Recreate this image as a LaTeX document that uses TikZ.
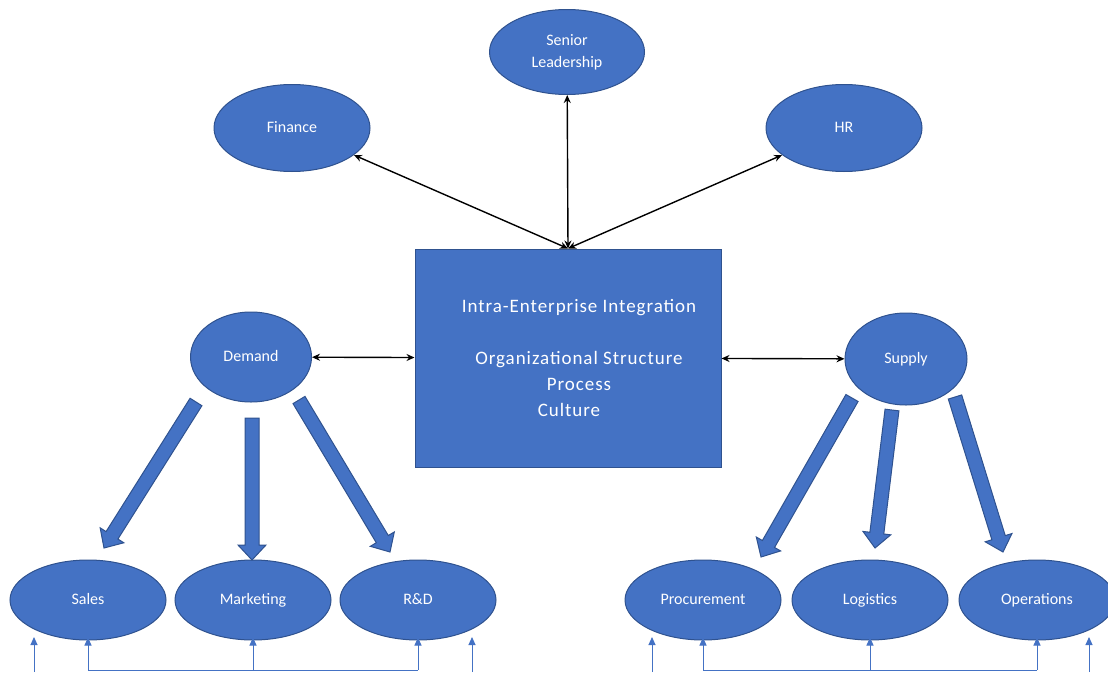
\documentclass[tikz,border=0pt]{standalone}
\usepackage{fontspec}
\setmainfont{Carlito}
\newfontfamily\wide[LetterSpace=5]{Carlito}
\usetikzlibrary{arrows.meta,shapes.geometric,positioning,calc}

\definecolor{ofblue}{HTML}{4472C4}
\definecolor{ofedge}{HTML}{2F528F}

% thick block arrow from #1 to #2
\newcommand{\fatarrow}[2]{%
  \coordinate (hb) at ($(#2)!15pt!(#1)$);
  \filldraw[fat] ($(#1)!7pt!90:(#2)$) -- ($(hb)!7pt!90:(#2)$) -- ($(hb)!14pt!90:(#2)$)
    -- (#2) -- ($(hb)!14pt!-90:(#2)$) -- ($(hb)!7pt!-90:(#2)$) -- ($(#1)!7pt!-90:(#2)$) -- cycle;}

\begin{document}
\begin{tikzpicture}[x=1pt,y=-1pt,node distance=165pt,>={Stealth[length=8pt,width=7pt]},
  blob/.style={ellipse,fill=ofblue,draw=ofedge,line width=1pt,text=white,inner sep=0pt,
    minimum width=156pt,minimum height=80pt,align=center,font=\fontsize{16}{22}\selectfont},
  unit/.style={blob,text height=11pt,text depth=3pt},
  core/.style={rectangle,fill=ofblue,draw=ofedge,line width=1pt,minimum width=306pt,minimum height=218pt},
  link/.style={<->,line width=1.4pt,black},
  fat/.style={fill=ofblue,draw=ofedge,line width=1pt},
  feed/.style={draw=ofblue,line width=1pt,-{Triangle[length=8pt,width=7pt]}},
  bus/.style={draw=ofblue,line width=1pt}]

  \useasboundingbox (0,0) rectangle (1108,672);

  % top
  \node[blob,minimum width=155pt,minimum height=85pt] (lead) at (567,52) {Senior\\Leadership};
  \node[unit,minimum height=87pt] (finance) at (292,128) {Finance};
  \node[unit,minimum height=87pt] (hr) at (844,128) {HR};

  % centre
  \node[core] (box) at (568,358) {};
  \node[text=white,align=center,font=\wide\fontsize{19}{26}\selectfont] (boxtext) at (579,358)
    {Intra-Enterprise Integration\\[26pt]Organizational Structure\\Process\hspace*{20pt}\\Culture\hspace*{20pt}};

  \node[unit,minimum width=121pt,minimum height=90pt] (demand) at (251,357) {Demand};
  \node[unit,minimum width=122pt,minimum height=92pt] (supply) at (906,359) {Supply};

  % bottom row
  \node[unit] (sales) at (88,600) {Sales};
  \node[unit] (marketing) [right of=sales] {Marketing};
  \node[unit] (rnd) [right of=marketing] {R\&D};
  \node[unit] (procurement) at (703,600) {Procurement};
  \node[unit,node distance=167pt] (logistics) [right of=procurement] {Logistics};
  \node[unit,node distance=167pt] (operations) [right of=logistics] {Operations};

  \draw[link] (box.north) -- (lead);
  \draw[link] (box.north) -- (finance);
  \draw[link] (box.north) -- (hr);
  \draw[link] (demand) -- (box);
  \draw[link] (box) -- (supply);

  % block arrows
  \coordinate (d1s) at (196,402); \coordinate (d1e) at (104,548);
  \coordinate (d2s) at (252,418); \coordinate (d2e) at (252,560);
  \coordinate (d3s) at (299,400); \coordinate (d3e) at (390,552);
  \coordinate (s1s) at (852,398); \coordinate (s1e) at (761,557);
  \coordinate (s2s) at (892,410); \coordinate (s2e) at (875,548);
  \coordinate (s3s) at (955,397); \coordinate (s3e) at (1003,552);
  \fatarrow{d1s}{d1e}
  \fatarrow{d2s}{d2e}
  \fatarrow{d3s}{d3e}
  \fatarrow{s1s}{s1e}
  \fatarrow{s2s}{s2e}
  \fatarrow{s3s}{s3e}

  % feedback lines
  \coordinate (lbus) at (0,670);
  \draw[bus] (sales.south |- lbus) -- (rnd.south |- lbus);
  \draw[bus] (procurement.south |- lbus) -- (operations.south |- lbus);
  \foreach \n in {sales,marketing,rnd,procurement,logistics,operations}
    \draw[feed,shorten >=-3pt] (\n.south |- lbus) -- (\n.south);

  \coordinate (f1b) at (34,672);   \coordinate (f1t) at (34,637);
  \coordinate (f2b) at (472,672);  \coordinate (f2t) at (472,637);
  \coordinate (f3b) at (652,672);  \coordinate (f3t) at (652,637);
  \coordinate (f4b) at (1089,672); \coordinate (f4t) at (1089,637);
  \draw[feed] (f1b) -- (f1t);
  \draw[feed] (f2b) -- (f2t);
  \draw[feed] (f3b) -- (f3t);
  \draw[feed] (f4b) -- (f4t);
\end{tikzpicture}
\end{document}
